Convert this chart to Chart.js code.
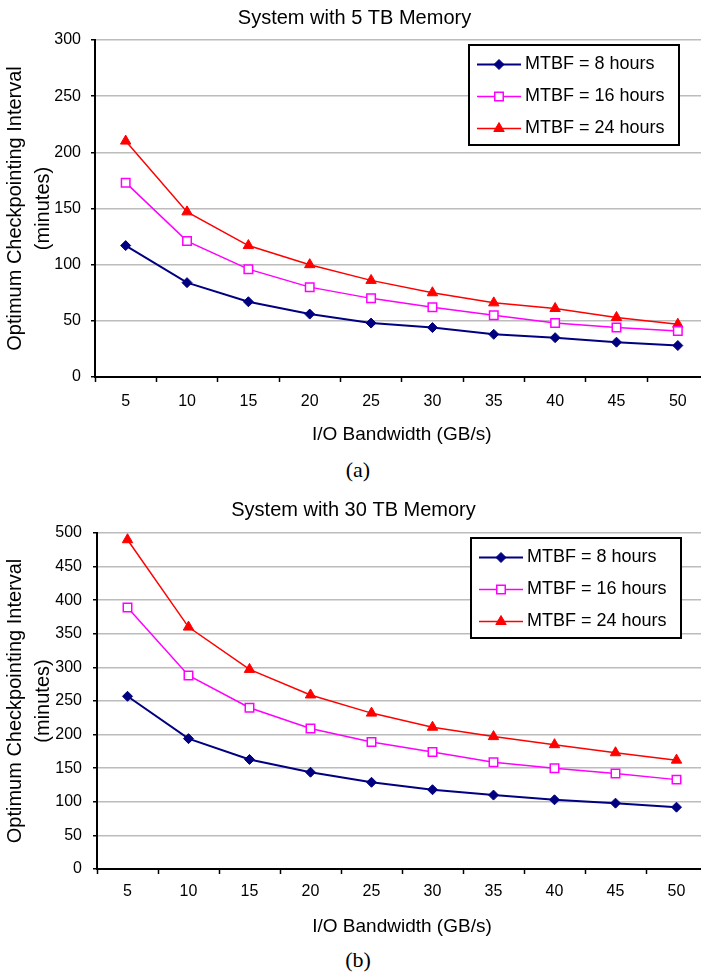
<!DOCTYPE html>
<html>
<head>
<meta charset="utf-8">
<title>Optimum Checkpointing Interval</title>
<script src="https://cdn.jsdelivr.net/npm/chart.js@4.4.1/dist/chart.umd.min.js"></script>
<style>
    html, body {
        margin: 0;
        padding: 0;
        background: #fff;
        overflow: hidden;
    }
    #page {
        position: relative;
        width: 701px;
        height: 979px;
        overflow: hidden;
    }
    #page canvas {
        position: absolute;
        left: 0;
    }
    #chart-a { top: 0; }
    #chart-b { top: 490px; }
    .caption {
        position: absolute;
        left: 0;
        width: 716px;
        height: 22px;
        line-height: 22px;
        text-align: center;
        font-family: "Liberation Serif", "Times New Roman", serif;
        font-size: 22px;
        color: #000;
    }
</style>
</head>
<body>
<div id="page">
    <canvas id="chart-a" width="716" height="450"></canvas>
    <div class="caption" style="top:459px">(a)</div>
    <canvas id="chart-b" width="716" height="450"></canvas>
    <div class="caption" style="top:949px">(b)</div>
</div>

<script>
// I/O bandwidth categories (GB/s)
const bandwidth = ['5', '10', '15', '20', '25', '30', '35', '40', '45', '50'];

const seriesLabels = ['MTBF = 8 hours', 'MTBF = 16 hours', 'MTBF = 24 hours'];

// (a) System with 5 TB Memory, minutes
const mem5Mtbf8 = [117, 84, 67, 56, 48, 44, 38, 35, 31, 28];
const mem5Mtbf16 = [173, 121, 96, 80, 70, 62, 55, 48, 44, 41];
const mem5Mtbf24 = [210, 147, 117, 100, 86, 75, 66, 61, 53, 47];

// (b) System with 30 TB Memory, minutes
const mem30Mtbf8 = [257, 194, 163, 144, 129, 118, 110, 103, 98, 92];
const mem30Mtbf16 = [389, 288, 240, 209, 189, 174, 159, 150, 142, 133];
const mem30Mtbf24 = [490, 360, 297, 259, 232, 211, 197, 185, 173, 162];

(function() {
    'use strict';

    const colors = {
        navy: '#000080',
        magenta: '#FF00FF',
        red: '#FF0000',
        grid: '#bcbcbc',
        black: '#000000',
        white: '#FFFFFF'
    };

    const family = '"Liberation Sans", Arial, Helvetica, sans-serif';
    Chart.defaults.font.family = family;
    Chart.defaults.color = colors.black;

    /**
     * Draw one marker the same way Chart.js draws its point styles
     */
    function drawMarker(ctx, style, x, y, r) {
        ctx.beginPath();
        if (style === 'rectRot') {
            ctx.moveTo(x, y - r);
            ctx.lineTo(x + r, y);
            ctx.lineTo(x, y + r);
            ctx.lineTo(x - r, y);
            ctx.closePath();
        } else if (style === 'rect') {
            const s = r * Math.SQRT1_2;
            ctx.rect(x - s, y - s, 2 * s, 2 * s);
        } else {
            ctx.moveTo(x, y - r);
            ctx.lineTo(x + Math.sin(2 * Math.PI / 3) * r, y + 0.5 * r);
            ctx.lineTo(x - Math.sin(2 * Math.PI / 3) * r, y + 0.5 * r);
            ctx.closePath();
        }
        ctx.fill();
        ctx.stroke();
    }

    // Boxed legend sitting inside the plot, top right
    const boxedLegend = {
        id: 'boxedLegend',
        afterDraw(chart) {
            const ctx = chart.ctx;
            const area = chart.chartArea;
            const x = area.left + 374;
            const y = area.top + 5;
            const w = 210;
            const h = 100;

            ctx.save();
            ctx.fillStyle = colors.white;
            ctx.fillRect(x, y, w, h);
            ctx.lineWidth = 2;
            ctx.strokeStyle = colors.black;
            ctx.strokeRect(x, y, w, h);

            chart.data.datasets.forEach(function(ds, i) {
                const cy = y + 19.5 + i * 32;
                ctx.strokeStyle = ds.borderColor;
                ctx.lineWidth = ds.borderWidth;
                ctx.beginPath();
                ctx.moveTo(x + 8, cy);
                ctx.lineTo(x + 52, cy);
                ctx.stroke();

                ctx.fillStyle = ds.backgroundColor;
                ctx.lineWidth = ds.pointBorderWidth;
                drawMarker(ctx, ds.pointStyle, x + 30, cy, ds.pointRadius);

                ctx.fillStyle = colors.black;
                ctx.font = '18px ' + family;
                ctx.textBaseline = 'middle';
                ctx.textAlign = 'left';
                ctx.fillText(ds.label, x + 56, cy);
            });
            ctx.restore();
        }
    };

    function buildChart(id, opts) {
        const ctx = document.getElementById(id).getContext('2d');

        new Chart(ctx, {
            type: 'line',
            data: {
                labels: bandwidth,
                datasets: [
                    {
                        label: seriesLabels[0],
                        data: opts.series[0],
                        borderColor: colors.navy,
                        backgroundColor: colors.navy,
                        borderWidth: 2,
                        pointStyle: 'rectRot',
                        pointRadius: 5,
                        pointBorderWidth: 1,
                        tension: 0
                    },
                    {
                        label: seriesLabels[1],
                        data: opts.series[1],
                        borderColor: colors.magenta,
                        backgroundColor: colors.white,
                        borderWidth: 1.5,
                        pointStyle: 'rect',
                        pointRadius: 6,
                        pointBorderWidth: 1.5,
                        tension: 0
                    },
                    {
                        label: seriesLabels[2],
                        data: opts.series[2],
                        borderColor: colors.red,
                        backgroundColor: colors.red,
                        borderWidth: 1.5,
                        pointStyle: 'triangle',
                        pointRadius: 6,
                        pointBorderWidth: 1,
                        tension: 0
                    }
                ]
            },
            options: {
                responsive: false,
                animation: false,
                layout: {
                    padding: { left: 0, right: opts.padRight, top: 0, bottom: 0 }
                },
                plugins: {
                    legend: { display: false },
                    tooltip: { enabled: false },
                    title: {
                        display: true,
                        text: opts.title,
                        color: colors.black,
                        font: { size: 20, weight: 'normal' },
                        padding: opts.titlePadding
                    }
                },
                scales: {
                    x: {
                        offset: true,
                        grid: {
                            drawOnChartArea: false,
                            tickLength: 5,
                            tickColor: colors.black,
                            tickWidth: 1.5,
                            offset: true
                        },
                        border: { color: colors.black, width: 2 },
                        ticks: {
                            color: colors.black,
                            font: { size: 16 },
                            padding: opts.xTickPadding,
                            maxRotation: 0,
                            autoSkip: false
                        },
                        title: {
                            display: true,
                            text: 'I/O Bandwidth (GB/s)',
                            color: colors.black,
                            font: { size: 19 },
                            padding: { top: 0, bottom: opts.xTitlePadding }
                        },
                        afterFit: function(scale) {
                            scale.height = opts.xHeight;
                        }
                    },
                    y: {
                        min: 0,
                        max: opts.yMax,
                        grid: {
                            color: colors.grid,
                            lineWidth: 1.5,
                            tickLength: 4,
                            tickColor: colors.black,
                            tickWidth: 1.5
                        },
                        border: { color: colors.black, width: 2 },
                        ticks: {
                            stepSize: 50,
                            color: colors.black,
                            font: { size: 16 },
                            padding: opts.yTickPadding
                        },
                        title: {
                            display: true,
                            text: ['Optimum Checkpointing Interval', '(minutes)'],
                            color: colors.black,
                            font: { size: 20, lineHeight: 1.4 },
                            padding: { top: 1, bottom: 0 }
                        },
                        afterFit: function(scale) {
                            scale.width = opts.yWidth;
                        }
                    }
                }
            },
            plugins: [boxedLegend]
        });
    }

    function init() {
        buildChart('chart-a', {
            title: 'System with 5 TB Memory',
            series: [mem5Mtbf8, mem5Mtbf16, mem5Mtbf24],
            yMax: 300,
            padRight: 7,
            titlePadding: { top: 6, bottom: 10 },
            xHeight: 73,
            xTickPadding: 10,
            xTitlePadding: 4,
            yWidth: 95,
            yTickPadding: 10
        });

        buildChart('chart-b', {
            title: 'System with 30 TB Memory',
            series: [mem30Mtbf8, mem30Mtbf16, mem30Mtbf24],
            yMax: 500,
            padRight: 9,
            titlePadding: { top: 8, bottom: 11 },
            xHeight: 71,
            xTickPadding: 8,
            xTitlePadding: 2,
            yWidth: 97,
            yTickPadding: 11
        });
    }

    if (document.readyState === 'loading') {
        document.addEventListener('DOMContentLoaded', init);
    } else {
        init();
    }
})();
</script>
</body>
</html>
